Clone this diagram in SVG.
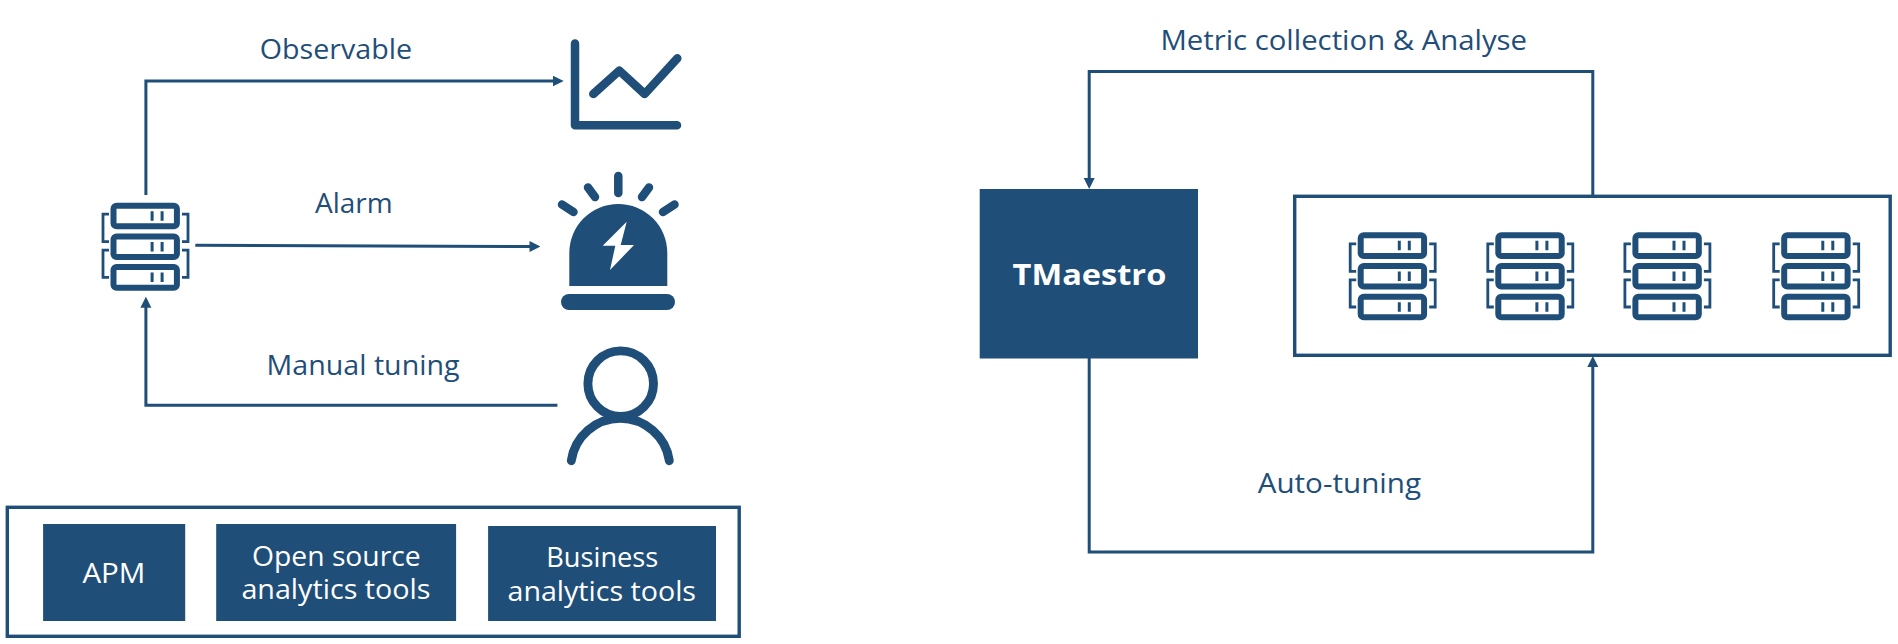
<svg xmlns="http://www.w3.org/2000/svg" width="1898" height="644" viewBox="0 0 1898 644">
<style>
text{font-family:"Open Sans","Noto Sans","Liberation Sans",sans-serif;font-size:28px;fill:#1f4e79}
text.w{fill:#fff}
.c{fill:none;stroke:#1f4e79;stroke-width:3}
.box{fill:#1f4e79}
.frame{fill:#fff;stroke:#1f4e79;stroke-width:3.4}
.ic{fill:none;stroke:#1f4e79;stroke-width:8.5;stroke-linecap:round;stroke-linejoin:round}
.fill{fill:#1f4e79}
</style>
<defs>
<marker id="arrow" markerUnits="userSpaceOnUse" markerWidth="11" markerHeight="12" viewBox="0 0 11 12" refX="7" refY="6" orient="auto"><path d="M0 0.5L11 6L0 11.5z" fill="#1f4e79"/></marker>
<g id="server">
<g fill="#fff" stroke="#1f4e79" stroke-width="6">
<rect x="3" y="3" width="63.4" height="20.6" rx="3"/>
<rect x="3" y="33.7" width="63.4" height="20.6" rx="3"/>
<rect x="3" y="64.4" width="63.4" height="20.6" rx="3"/>
</g>
<g stroke="#1f4e79" fill="none">
<path stroke-width="3" d="M41.6 8.5V18M51.6 8.5V18M41.6 39.2V48.7M51.6 39.2V48.7M41.6 69.9V79.4M51.6 69.9V79.4"/>
<path stroke-width="2.8" d="M-1.5 11.5H-7.5V39H-1.5M-1.5 47.5H-7.5V74.7H-1.5M71.5 11.5H77.5V39H71.5M71.5 47.5H77.5V74.7H71.5"/>
</g>
</g>
</defs>
<rect width="1898" height="644" fill="#fff"/>
<g id="connectors">
<path class="c" d="M145.9 195V81H559.7" marker-end="url(#arrow)"/>
<path class="c" d="M195.3 245.3L536.5 246.5" marker-end="url(#arrow)"/>
<path class="c" d="M557.4 405.3H145.9V300.7" marker-end="url(#arrow)"/>
<path class="c" d="M1592.8 196V71.5H1089.2V185" marker-end="url(#arrow)"/>
<path class="c" d="M1089.2 358V552H1592.8V360" marker-end="url(#arrow)"/>
</g>
<g id="label-observable"><text x="259.8" y="58.5" textLength="152.2" lengthAdjust="spacingAndGlyphs">Observable</text></g>
<g id="label-alarm"><text x="315" y="213.3" textLength="77.6" lengthAdjust="spacingAndGlyphs">Alarm</text></g>
<g id="label-manual"><text x="266.6" y="375" textLength="192.9" lengthAdjust="spacingAndGlyphs">Manual tuning</text></g>
<g id="label-metric"><text x="1160.4" y="50" textLength="366.6" lengthAdjust="spacingAndGlyphs">Metric collection &amp; Analyse</text></g>
<g id="label-auto"><text x="1257.7" y="493" textLength="163.3" lengthAdjust="spacingAndGlyphs">Auto-tuning</text></g>
<g id="server-main"><use href="#server" x="110.5" y="202.7"/></g>
<g id="chart-icon"><path class="ic" d="M575 43.5V125.3H677"/><path class="ic" d="M593.3 94L619.3 70.7L644.7 94L677.3 58.3"/></g>
<g id="alarm-icon">
<path class="fill" d="M569.3 286V253A49 49 0 0 1 667.3 253V286Z"/>
<path d="M626.7 221.7L602.7 245.7H615.3L610 270L634 245H620.7Z" fill="#fff"/>
<rect class="fill" x="561" y="294" width="114" height="16" rx="8"/>
<path class="ic" d="M618.3 176V193M588 187.5L595 197M649 187.5L642 197M562 204.5L573.5 212M674.5 204.5L663 212"/>
</g>
<g id="person-icon">
<path class="ic" style="stroke-width:8.9" d="M571.3 460.7A49.5 49.5 0 0 1 669.3 460.7"/>
<circle class="ic" style="stroke-width:8.9;fill:#fff" cx="620.7" cy="383.7" r="32.8"/>
</g>
<g id="tools-frame"><rect class="frame" x="7.3" y="507.3" width="731.9" height="129"/></g>
<g id="apm"><rect class="box" x="43.1" y="524" width="142.1" height="97"/><text class="w" x="82.4" y="582.7" textLength="63" lengthAdjust="spacingAndGlyphs">APM</text></g>
<g id="open-source"><rect class="box" x="216.2" y="524" width="239.9" height="97"/><text class="w" x="252" y="566" textLength="168.7" lengthAdjust="spacingAndGlyphs">Open source</text><text class="w" x="241.4" y="599.3" textLength="189" lengthAdjust="spacingAndGlyphs">analytics tools</text></g>
<g id="business"><rect class="box" x="488.1" y="526" width="227.9" height="95"/><text class="w" x="546.3" y="566.7" textLength="112" lengthAdjust="spacingAndGlyphs">Business</text><text class="w" x="507.5" y="600.7" textLength="188.5" lengthAdjust="spacingAndGlyphs">analytics tools</text></g>
<g id="tmaestro"><rect class="box" x="979.7" y="189" width="218.3" height="169.5"/><text class="w" x="1012.6" y="285" textLength="153.7" lengthAdjust="spacingAndGlyphs" style="font-weight:700">TMaestro</text></g>
<g id="cluster-frame"><rect class="frame" x="1294.7" y="196.3" width="595.5" height="159"/></g>
<g id="server-1"><use href="#server" x="1357.7" y="232.3"/></g>
<g id="server-2"><use href="#server" x="1495.3" y="232.3"/></g>
<g id="server-3"><use href="#server" x="1632.4" y="232.3"/></g>
<g id="server-4"><use href="#server" x="1781.2" y="232.3"/></g>
</svg>
